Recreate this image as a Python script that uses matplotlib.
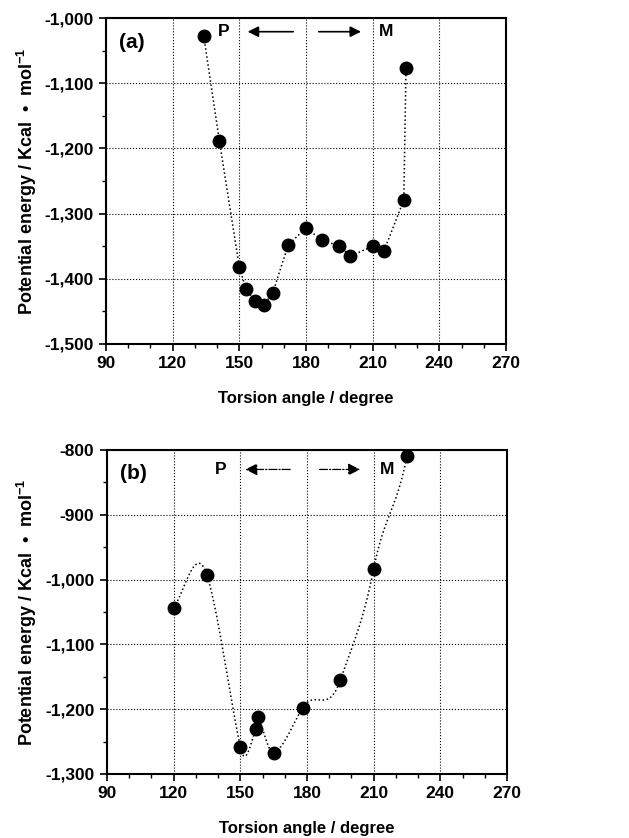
import numpy as np
import matplotlib
matplotlib.use("Agg")
from matplotlib import pyplot as plt
from matplotlib.ticker import MultipleLocator, FuncFormatter

plt.rcParams['font.family'] = ['Liberation Sans', 'DejaVu Sans']
plt.rcParams['font.weight'] = 'bold'
plt.rcParams['mathtext.fontset'] = 'custom'
plt.rcParams['mathtext.rm'] = 'Liberation Sans:bold'
plt.rcParams['mathtext.bf'] = 'Liberation Sans:bold'

# panel (a)
angle_a = [134, 141, 150, 153, 157, 161, 165, 172, 180, 187, 195, 200, 210, 215, 224, 225]
energy_a = [-1028, -1188, -1382, -1416, -1434, -1440, -1422, -1348, -1322,
            -1340, -1350, -1365, -1350, -1358, -1279, -1076]

# panel (b)
angle_b = [120, 135, 150, 157, 158, 165, 178, 195, 210, 225]
energy_b = [-1044, -993, -1258, -1231, -1212, -1267, -1198, -1155, -984, -809]

xlabel = "Torsion angle / degree"
ylabel = r"Potential energy / Kcal  •  mol$^{-1}$"


def smooth(x, y, n=40):
    # cubic hermite with finite-difference tangents
    x = np.asarray(x, float)
    y = np.asarray(y, float)
    m = np.zeros_like(y)
    m[1:-1] = (y[2:] - y[:-2]) / (x[2:] - x[:-2])
    m[0] = (y[1] - y[0]) / (x[1] - x[0])
    m[-1] = (y[-1] - y[-2]) / (x[-1] - x[-2])
    m = m * 1.5
    xs, ys = [], []
    for i in range(len(x) - 1):
        h = x[i + 1] - x[i]
        t = np.linspace(0, 1, n)
        h00 = 2 * t**3 - 3 * t**2 + 1
        h10 = t**3 - 2 * t**2 + t
        h01 = -2 * t**3 + 3 * t**2
        h11 = t**3 - t**2
        xs.append(x[i] + t * h)
        ys.append(h00 * y[i] + h10 * h * m[i] + h01 * y[i + 1] + h11 * h * m[i + 1])
    return np.concatenate(xs), np.concatenate(ys)


def comma(v, pos):
    return "{:,.0f}".format(v)


def style(ax, ymin, ymax):
    ax.set_xlim(90, 270)
    ax.set_ylim(ymin, ymax)
    ax.xaxis.set_major_locator(MultipleLocator(30))
    ax.xaxis.set_minor_locator(MultipleLocator(10))
    ax.yaxis.set_major_locator(MultipleLocator(100))
    ax.yaxis.set_minor_locator(MultipleLocator(50))
    ax.yaxis.set_major_formatter(FuncFormatter(comma))
    ax.grid(True, which='major', color='black', linestyle=':', linewidth=0.8)
    ax.tick_params(which='major', direction='out', length=5, width=1.2, labelsize=12.5, pad=4)
    ax.tick_params(which='minor', direction='out', length=3, width=1)
    for s in ax.spines.values():
        s.set_linewidth(1.5)
    for lab in ax.get_xticklabels() + ax.get_yticklabels():
        lab.set_fontweight('bold')
    ax.set_xlabel(xlabel, fontsize=12, fontweight='bold', labelpad=14)
    ax.set_ylabel(ylabel, fontsize=13, fontweight='bold', labelpad=4)


fig = plt.figure(figsize=(6.29, 8.38), dpi=100)
ax1 = fig.add_axes([0.1685, 0.5895, 0.636, 0.389])
ax2 = fig.add_axes([0.170, 0.0764, 0.636, 0.3866])

# (a)
ax1.plot(angle_a, energy_a, color='black', linestyle=':', linewidth=1.1)
ax1.plot(angle_a, energy_a, 'o', color='black', markersize=9)
style(ax1, -1500, -1000)
ax1.text(96, -1038, "(a)", fontsize=15, fontweight='bold', va='center')
ax1.text(143, -1021, "P", fontsize=12.5, fontweight='bold', va='center', ha='center')
ax1.text(216, -1021, "M", fontsize=12.5, fontweight='bold', va='center', ha='center')
ax1.annotate("", xy=(152.5, -1021), xytext=(175.5, -1021),
             arrowprops=dict(arrowstyle='-|>', color='black', lw=1.2, mutation_scale=16))
ax1.annotate("", xy=(206, -1021), xytext=(184.5, -1021),
             arrowprops=dict(arrowstyle='-|>', color='black', lw=1.2, mutation_scale=16))

# (b)
sx, sy = smooth(angle_b, energy_b)
ax2.plot(sx, sy, color='black', linestyle=':', linewidth=1.1)
ax2.plot(angle_b, energy_b, 'o', color='black', markersize=9)
style(ax2, -1300, -800)
ax2.text(96, -836, "(b)", fontsize=15, fontweight='bold', va='center')
ax2.text(141, -830, "P", fontsize=12.5, fontweight='bold', va='center', ha='center')
ax2.text(216, -830, "M", fontsize=12.5, fontweight='bold', va='center', ha='center')
ax2.annotate("", xy=(151, -830), xytext=(173.7, -830),
             arrowprops=dict(arrowstyle='-|>', color='black', lw=0.9, linestyle='-.',
                             mutation_scale=18))
ax2.annotate("", xy=(205.2, -830), xytext=(184.4, -830),
             arrowprops=dict(arrowstyle='-|>', color='black', lw=0.9, linestyle='-.',
                             mutation_scale=18))

fig.savefig("out.png", dpi=100)
